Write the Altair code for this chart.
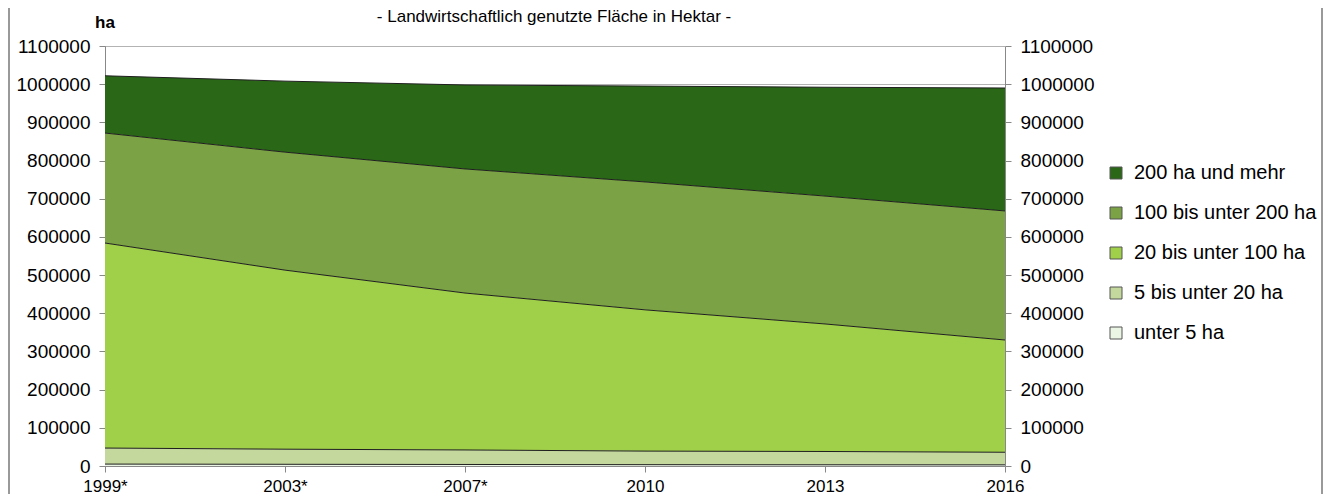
import altair as alt
import pandas as pd

years = ["1999*", "2003*", "2007*", "2010", "2013", "2016"]
categories = ["200 ha und mehr", "100 bis unter 200 ha", "20 bis unter 100 ha",
              "5 bis unter 20 ha", "unter 5 ha"]
colors = ["#2A6817", "#7BA245", "#A0CF4A", "#C4D89E", "#EAF5E4"]

v_200_plus = [150000, 186000, 220000, 251000, 285000, 322000]
v_100_200 = [288000, 309000, 325000, 335000, 335000, 338000]
v_20_100 = [537000, 469000, 411000, 370000, 334000, 294000]
v_5_20 = [42000, 39500, 38000, 35500, 34800, 33000]
v_unter_5 = [5000, 4500, 4000, 3500, 3200, 3000]

series = [v_200_plus, v_100_200, v_20_100, v_5_20, v_unter_5]
rows = []
for ci, (cat, vals) in enumerate(zip(categories, series)):
    for y, v in zip(years, vals):
        rows.append({"Jahr": y, "Klasse": cat, "ha": v, "ord": len(categories) - 1 - ci})
df = pd.DataFrame(rows)

FONT = "Liberation Sans"
yticks = list(range(0, 1100001, 100000))

x_axis = alt.Axis(title=None, labelAngle=0, labelFontSize=17, labelColor="#000",
                  domainColor="#888", tickColor="#888", tickSize=6,
                  labelPadding=6, grid=False)
x_scale = alt.Scale(type="point", padding=0)
y_scale = alt.Scale(domain=[0, 1100000], nice=False)

base = alt.Chart(df).transform_stack(
    stack="ha", groupby=["Jahr"], as_=["y0", "y1"],
    sort=[alt.SortField("ord", order="ascending")],
)

area = base.mark_area(opacity=1).encode(
    x=alt.X("Jahr:N", sort=years, scale=x_scale, axis=x_axis),
    y=alt.Y("y1:Q", scale=y_scale,
            axis=alt.Axis(title=None, values=yticks, format="d", labelFontSize=19,
                          labelColor="#000", domainColor="#888", tickColor="#888",
                          tickSize=6, labelPadding=9, grid=True, gridColor="#666",
                          gridDash=[1, 1], gridWidth=1)),
    y2="y0:Q",
    color=alt.Color("Klasse:N", scale=alt.Scale(domain=categories, range=colors),
                    legend=alt.Legend(orient="none", legendX=1001, legendY=117, title=None,
                                      symbolType="square", symbolSize=144,
                                      symbolStrokeColor="#555", symbolStrokeWidth=1,
                                      labelFontSize=20, labelLimit=300, labelOffset=8,
                                      rowPadding=20, labelColor="#000")),
)

lines = base.mark_line(color="#1E1E1E", strokeWidth=1).encode(
    x=alt.X("Jahr:N", sort=years, scale=x_scale, axis=x_axis),
    y=alt.Y("y1:Q", scale=y_scale,
            axis=alt.Axis(title=None, orient="right", values=yticks, format="d",
                          labelFontSize=19, labelColor="#000", domainColor="#888",
                          tickColor="#888", tickSize=6, labelPadding=9, grid=False)),
    detail="Klasse:N",
)

dummy = pd.DataFrame({"t": ["- Landwirtschaftlich genutzte  Fläche in Hektar -"]})
title = alt.Chart(dummy).mark_text(fontSize=17, align="center", baseline="alphabetic",
                                   color="#000", font=FONT).encode(
    x=alt.value(449), y=alt.value(-24), text="t:N")
ha = alt.Chart(pd.DataFrame({"t": ["ha"]})).mark_text(
    fontSize=17, fontWeight="bold", align="left", baseline="alphabetic",
    color="#000", font=FONT).encode(x=alt.value(-10), y=alt.value(-18), text="t:N")

border_l = alt.Chart(pd.DataFrame({"a": [0]})).mark_rule(color="#999", strokeWidth=2).encode(
    x=alt.value(-96), y=alt.value(-38), y2=alt.value(448))
border_r = alt.Chart(pd.DataFrame({"a": [0]})).mark_rule(color="#999", strokeWidth=2).encode(
    x=alt.value(1217), y=alt.value(-38), y2=alt.value(448))

chart = alt.layer(area, lines, title, ha, border_l, border_r).resolve_axis(
    y="independent"
).properties(
    width=900, height=420,
    autosize=alt.AutoSizeParams(type="none"),
    padding={"left": 97, "top": 38, "right": 318, "bottom": 28},
).configure(font=FONT).configure_view(stroke=None)

chart.save("out.html", embed_options={"renderer": "svg", "actions": False})
